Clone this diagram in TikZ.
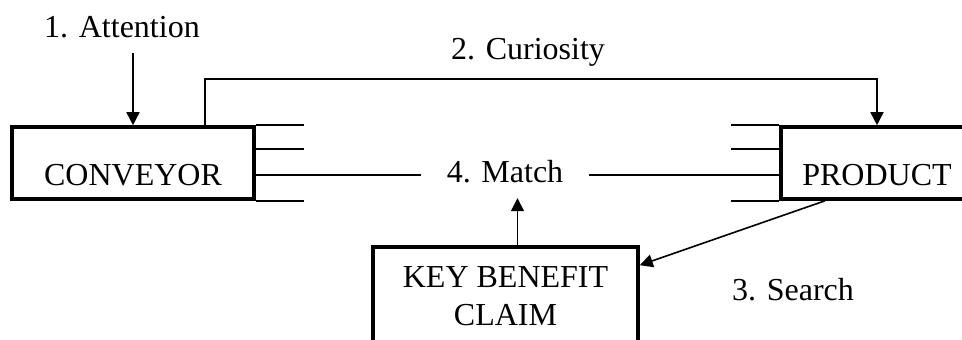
\documentclass[tikz,border=0pt]{standalone}
\usepackage{fontspec}
\setmainfont{Liberation Serif}
\usetikzlibrary{arrows.meta}
\begin{document}
\begin{tikzpicture}[x=1pt,y=-1pt,
  every node/.style={font=\fontsize{32}{38}\selectfont},
  boxnode/.style={draw,line width=3.6pt,inner sep=0pt,rectangle,align=center},
  thin/.style={line width=1.6pt},
  arr/.style={thin,-{Triangle[length=13pt,width=13pt]}},
  lbl/.style={anchor=base,inner sep=0pt}]
\useasboundingbox (0,0) rectangle (962,340);
\clip (0,0) rectangle (962,340);
\fill[white] (0,0) rectangle (962,340);

\node[boxnode,minimum width=242pt,text height=58pt,text depth=14pt] (conv) at (133,163) {CONVEYOR};
\node[boxnode,minimum width=192pt,text height=58pt,text depth=14pt] (prod) at (877,163) {PRODUCT};
\node[boxnode,minimum width=265pt,text height=78pt,text depth=35pt] (key) at (505.5,303.5) {KEY BENEFIT\\CLAIM};

\node[lbl] (att) at (122,37) {1. Attention};
\node[lbl] (cur) at (528,59) {2. Curiosity};
\node[lbl] (srch) at (793,300) {3. Search};
\node[inner xsep=26pt,inner ysep=0pt,text height=21pt,text depth=7pt] (match) at (505,175) {4. Match};

\coordinate (attstart) at (133,53);
\coordinate (curcorner) at (877,79);

% 1. Attention arrow
\draw[arr] (attstart) -- (conv.north);
% 2. Curiosity connector
\draw[arr] ([xshift=72pt]conv.north) |- (curcorner) -- (prod.north);
% stubs on conveyor
\draw[thin] (conv.north east) -- ++(48,0);
\draw[thin] ([yshift=-24pt]conv.north east) -- ++(48,0);
\draw[thin] (conv.south east) -- ++(48,0);
% stubs on product
\draw[thin] (prod.north west) -- ++(-48,0);
\draw[thin] ([yshift=-24pt]prod.north west) -- ++(-48,0);
\draw[thin] (prod.south west) -- ++(-48,0);
% 4. Match lines
\draw[thin] (conv.east |- match.west) -- (match.west);
\draw[thin] (match.east) -- (prod.west |- match.east);
% 3. Search arrow
\draw[arr] ([xshift=-52pt]prod.south) -- ([yshift=-20pt]key.north east);
% key -> match
\draw[arr] ([xshift=12pt]key.north) -- ++(0,-47);
\end{tikzpicture}
\end{document}
